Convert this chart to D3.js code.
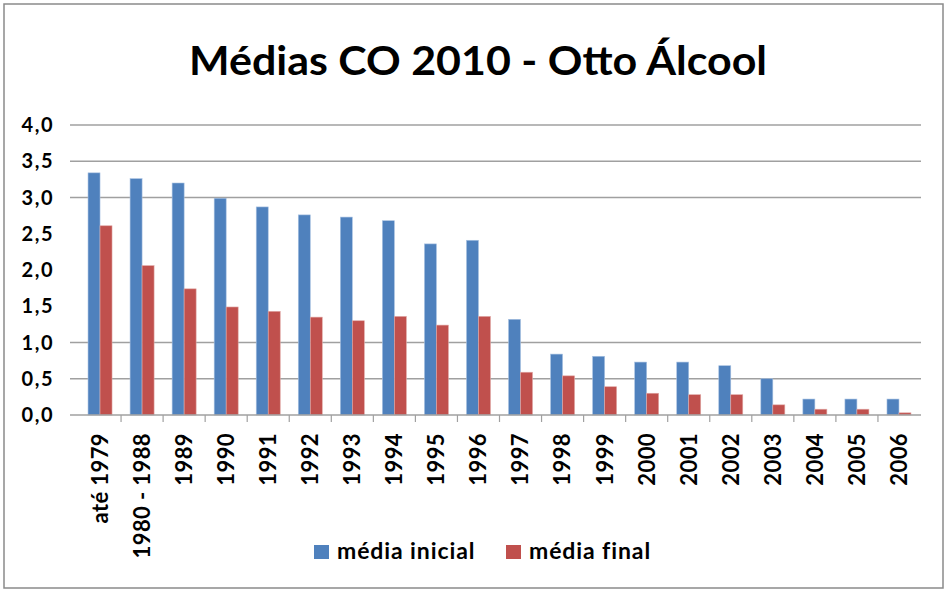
<!DOCTYPE html>
<html>
<head>
<meta charset="utf-8">
<script src="https://cdn.jsdelivr.net/npm/d3@7/dist/d3.min.js"></script>
<style>
  body { margin: 0; background: #fff; }
  text { font-family: Lato, "Open Sans", sans-serif; font-weight: bold; fill: #000; }
</style>
</head>
<body>
<svg width="947" height="593"></svg>
<script>
// dados
var anos = ["até 1979", "1980 - 1988", "1989", "1990", "1991", "1992", "1993", "1994", "1995", "1996",
            "1997", "1998", "1999", "2000", "2001", "2002", "2003", "2004", "2005", "2006"];
var mediaInicial = [3.34, 3.26, 3.20, 2.99, 2.87, 2.76, 2.73, 2.68, 2.36, 2.41,
                    1.32, 0.84, 0.81, 0.73, 0.73, 0.68, 0.50, 0.22, 0.22, 0.22];
var mediaFinal = [2.61, 2.06, 1.74, 1.49, 1.43, 1.35, 1.30, 1.36, 1.24, 1.36,
                  0.59, 0.54, 0.39, 0.30, 0.28, 0.28, 0.14, 0.08, 0.08, 0.03];
var yTicks = [0, 0.5, 1, 1.5, 2, 2.5, 3, 3.5, 4];
// linhas de grade que aparecem na imagem
var linhasGrade = [0.5, 1, 3, 3.5, 4];
var series = ["média inicial", "média final"];
var cores = ["#4F81BD", "#C0504D"];

var svg = d3.select("svg");

// moldura
svg.append("rect")
  .attr("x", 4).attr("y", 4)
  .attr("width", 939).attr("height", 584)
  .attr("fill", "#fff")
  .attr("stroke", "#8a8a8a")
  .attr("stroke-width", 1.5);

// título
svg.append("text")
  .attr("x", 478).attr("y", 75)
  .attr("text-anchor", "middle")
  .attr("font-size", "41px")
  .attr("textLength", 578)
  .attr("lengthAdjust", "spacingAndGlyphs")
  .text("Médias CO 2010 - Otto Álcool");

var x = d3.scaleBand().domain(anos).range([79, 920]);
var y = d3.scaleLinear().domain([0, 4]).range([415, 125]);
var larguraBarra = 12;

// grade
svg.append("g")
  .selectAll("line")
  .data(linhasGrade)
  .enter().append("line")
  .attr("x1", 70).attr("x2", 921)
  .attr("y1", function(d){ return y(d); })
  .attr("y2", function(d){ return y(d); })
  .attr("stroke", "#a0a0a0")
  .attr("stroke-width", 1.6);

// rótulos do eixo y
svg.append("g")
  .selectAll("text")
  .data(yTicks)
  .enter().append("text")
  .attr("x", 54)
  .attr("y", function(d){ return y(d); })
  .attr("dy", "0.36em")
  .attr("text-anchor", "end")
  .attr("font-size", "20px")
  .attr("letter-spacing", "1.5px")
  .text(function(d){ return d3.format(".1f")(d).replace(".", ","); });

// barras
var grupos = svg.append("g")
  .selectAll("g")
  .data(anos)
  .enter().append("g")
  .attr("transform", function(d){ return "translate(" + (x(d) + x.bandwidth() / 2) + ",0)"; });

grupos.append("rect")
  .attr("x", -larguraBarra)
  .attr("y", function(d, i){ return y(mediaInicial[i]); })
  .attr("width", larguraBarra)
  .attr("height", function(d, i){ return y(0) - y(mediaInicial[i]); })
  .attr("fill", cores[0])
  .attr("stroke", "#a9c2e2").attr("stroke-width", 0.6);

grupos.append("rect")
  .attr("x", 0)
  .attr("y", function(d, i){ return y(mediaFinal[i]); })
  .attr("width", larguraBarra)
  .attr("height", function(d, i){ return y(0) - y(mediaFinal[i]); })
  .attr("fill", cores[1])
  .attr("stroke", "#e0a8a6").attr("stroke-width", 0.6);

// eixo x
svg.append("g")
  .attr("transform", "translate(0," + y(0) + ")")
  .call(d3.axisBottom(x).tickSize(0).tickFormat(""))
  .call(function(g){
    g.select(".domain").attr("stroke", "#a0a0a0").attr("stroke-width", 1.6)
      .attr("d", "M70,0H921");
  });

svg.append("g")
  .selectAll("line")
  .data(anos.slice(1))
  .enter().append("line")
  .attr("x1", function(d){ return x(d); })
  .attr("x2", function(d){ return x(d); })
  .attr("y1", y(0)).attr("y2", y(0) + 7)
  .attr("stroke", "#a0a0a0")
  .attr("stroke-width", 1.2);

svg.append("g")
  .selectAll("text")
  .data(anos)
  .enter().append("text")
  .attr("transform", function(d){ return "translate(" + (x(d) + x.bandwidth() / 2) + ",433) rotate(-90)"; })
  .attr("dy", "0.36em")
  .attr("text-anchor", "end")
  .attr("font-size", "22px")
  .attr("letter-spacing", "0.4px")
  .text(function(d){ return d; });

// legenda
var legX = [314, 506];
var leg = svg.append("g")
  .selectAll("g")
  .data(series)
  .enter().append("g")
  .attr("transform", function(d, i){ return "translate(" + legX[i] + ",545)"; });

leg.append("rect")
  .attr("width", 15).attr("height", 14)
  .attr("fill", function(d, i){ return cores[i]; });

leg.append("text")
  .attr("x", 23).attr("y", 14)
  .attr("font-size", "23px")
  .attr("letter-spacing", "0.9px")
  .text(function(d){ return d; });
</script>
</body>
</html>
